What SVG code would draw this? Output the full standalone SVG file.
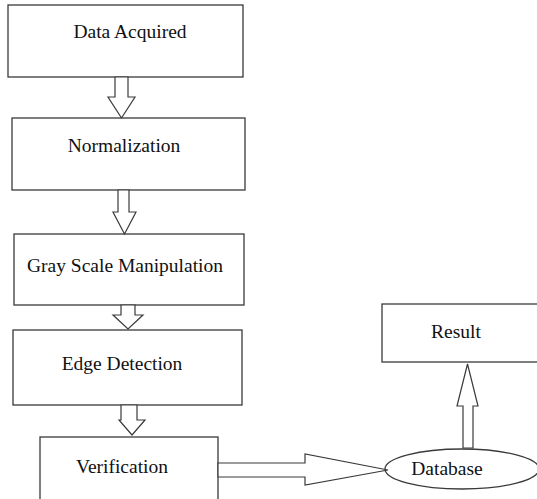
<svg xmlns="http://www.w3.org/2000/svg" width="537" height="499" viewBox="0 0 537 499">
<style>
.box{fill:#fff;stroke:#3a3a3a;stroke-width:1.3}
.arr{fill:#fff;stroke:#3a3a3a;stroke-width:1.2;stroke-linejoin:miter}
.t{font-family:"Liberation Serif","Times New Roman",serif;font-size:19.5px;fill:#111;text-anchor:middle}
</style>
<rect width="537" height="499" fill="#fff"/>
<g id="n1"><rect class="box" x="8" y="5" width="235" height="72"/><text class="t" x="130" y="38">Data Acquired</text></g>
<g id="n2"><rect class="box" x="12" y="118" width="233" height="72"/><text class="t" x="124" y="152">Normalization</text></g>
<g id="n3"><rect class="box" x="14" y="234" width="230" height="71"/><text class="t" x="125" y="272">Gray Scale Manipulation</text></g>
<g id="n4"><rect class="box" x="13" y="330" width="229" height="75"/><text class="t" x="122" y="370">Edge Detection</text></g>
<g id="n5"><rect class="box" x="40" y="437" width="178" height="70"/><text class="t" x="122" y="473">Verification</text></g>
<g id="n6"><rect class="box" x="382" y="304" width="160" height="58"/><text class="t" x="456" y="338">Result</text></g>
<g id="n7"><ellipse class="box" cx="462" cy="469" rx="77" ry="20"/><text class="t" x="447" y="475">Database</text></g>
<g id="connectors">
<polygon class="arr" points="115,77 128,77 128,97 135,97 121.5,118 108,97 115,97"/>
<polygon class="arr" points="118,190 129,190 129,212 136,212 124.5,234 113,212 118,212"/>
<polygon class="arr" points="121,305 135,305 135,315 143,315 128,329 113,315 121,315"/>
<polygon class="arr" points="121,405 137,405 137,420 145,420 132,435 119,420 121,420"/>
<polygon class="arr" points="218,463 305,463 305,454 388,470 305,485 305,477 218,477"/>
<polygon class="arr" points="463,448 463,406 457,406 467.5,364 478,406 473,406 473,448"/>
</g>
</svg>
